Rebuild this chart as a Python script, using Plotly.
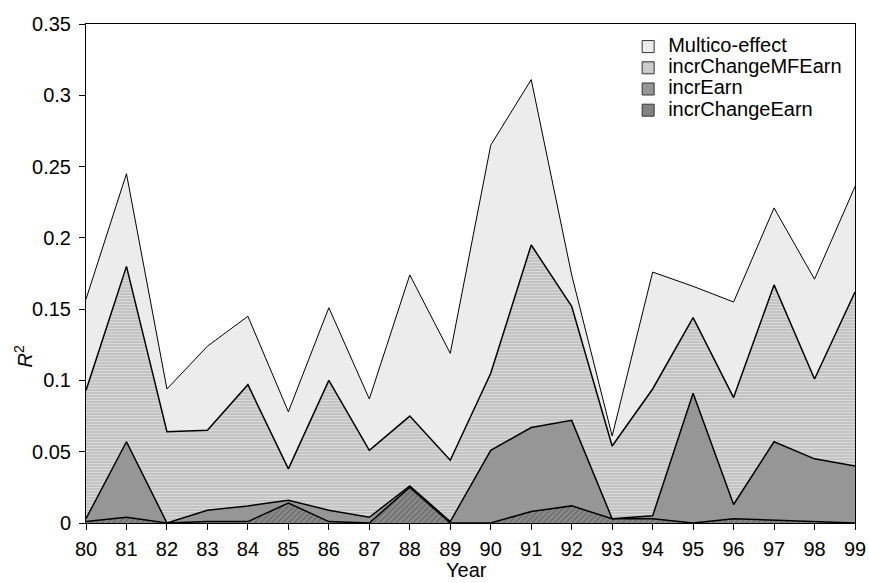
import plotly.graph_objects as go

years = list(range(80, 100))
tick_labels = [str(y) for y in years]

incrChangeEarn = [0.001, 0.004, 0.000, 0.001, 0.001, 0.014, 0.001, 0.000, 0.025, 0.000,
                  0.000, 0.008, 0.012, 0.003, 0.003, 0.000, 0.003, 0.002, 0.001, 0.000]
incrEarn = [0.002, 0.053, 0.000, 0.008, 0.011, 0.002, 0.008, 0.004, 0.001, 0.001,
            0.051, 0.059, 0.060, 0.000, 0.002, 0.091, 0.010, 0.055, 0.044, 0.040]
incrChangeMFEarn = [0.090, 0.123, 0.064, 0.056, 0.085, 0.022, 0.091, 0.047, 0.049, 0.043,
                    0.054, 0.128, 0.080, 0.051, 0.089, 0.053, 0.075, 0.110, 0.056, 0.122]
multico = [0.064, 0.065, 0.030, 0.059, 0.048, 0.040, 0.051, 0.036, 0.099, 0.075,
           0.160, 0.116, 0.022, 0.007, 0.082, 0.022, 0.067, 0.054, 0.070, 0.074]

FONT = "Liberation Sans, Arial, sans-serif"

series = [
    ("incrChangeEarn", incrChangeEarn, dict(shape="/", bgcolor="#8a8a8a", fgcolor="#4a4a4a", size=4, solidity=0.35), "#8a8a8a", 1.5),
    ("incrEarn", incrEarn, None, "#969696", 1.5),
    ("incrChangeMFEarn", incrChangeMFEarn, dict(shape="-", bgcolor="#c4c4c4", fgcolor="#f2f2f2", size=3, solidity=0.3), "#c8c8c8", 1.5),
    ("Multico-effect", multico, None, "#ececec", 1.0),
]

fig = go.Figure()
for name, vals, pat, col, lw in series:
    kw = dict(fillcolor=col)
    if pat is not None:
        kw["fillpattern"] = pat
    fig.add_trace(go.Scatter(
        x=years, y=vals, name=name, mode="lines", stackgroup="one",
        line=dict(color="black", width=lw), showlegend=False, hoverinfo="skip", **kw))

# legend swatches
for name, vals, pat, col, lw in series:
    marker = dict(color=col, line=dict(color="#333333", width=1))
    if pat is not None:
        marker["pattern"] = dict(pat, size=3)
    fig.add_trace(go.Bar(x=[None], y=[None],
                         name='<span style="font-size:20px">' + name + '</span>',
                         marker=marker, showlegend=True))

fig.update_layout(
    width=869, height=583,
    margin=dict(l=86, r=14, t=24, b=60),
    paper_bgcolor="white", plot_bgcolor="white",
    font=dict(family=FONT, size=20, color="black"),
    showlegend=True,
    legend=dict(x=0.705, y=0.986, xanchor="left", yanchor="top", traceorder="reversed",
                bgcolor="rgba(0,0,0,0)", borderwidth=0, font=dict(size=14),
                tracegroupgap=0, itemwidth=30),
    xaxis=dict(range=[80, 99], tickmode="array", tickvals=years, ticktext=tick_labels,
               showgrid=False, zeroline=False, showline=True, linecolor="black", linewidth=1,
               mirror=True, ticks="outside", ticklen=6, tickcolor="black",
               ticklabelstandoff=2, automargin=False),
    yaxis=dict(range=[0, 0.35], tickmode="array",
               tickvals=[0, 0.05, 0.1, 0.15, 0.2, 0.25, 0.3, 0.35],
               ticktext=["0", "0.05", "0.1", "0.15", "0.2", "0.25", "0.3", "0.35"],
               showgrid=False, zeroline=False, showline=True, linecolor="black", linewidth=1,
               mirror=True, ticks="outside", ticklen=6, tickcolor="black",
               ticklabelstandoff=4, automargin=False),
    annotations=[
        dict(text="<i>R</i><sup>2</sup>", xref="paper", yref="paper",
             x=-0.081, y=0.333, showarrow=False, textangle=-90,
             font=dict(size=20), xanchor="center", yanchor="middle"),
        dict(text="Year", xref="paper", yref="paper", x=0.495, y=-0.12,
             showarrow=False, font=dict(size=20), xanchor="center", yanchor="bottom"),
    ],
)

fig.write_html("out.html")
